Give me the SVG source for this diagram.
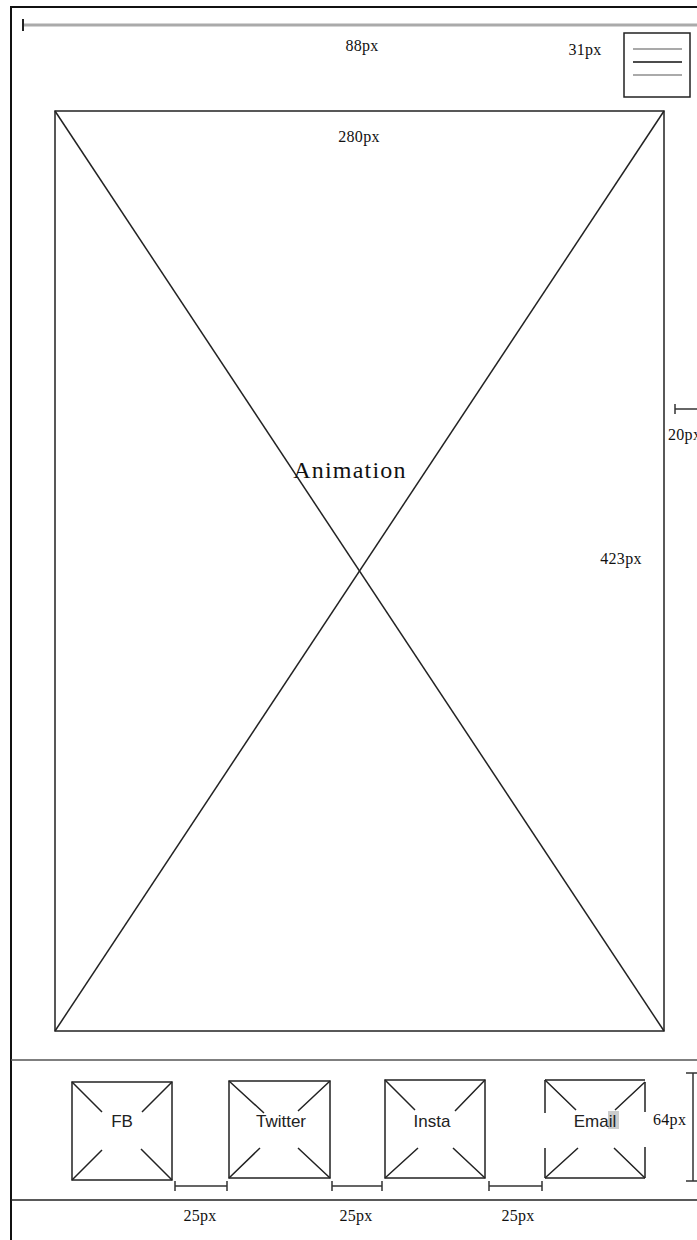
<svg xmlns="http://www.w3.org/2000/svg" width="697" height="1240" viewBox="0 0 697 1240">
<style>
.ln{stroke:#222;stroke-width:1.5;fill:none}
.dim{stroke:#333;stroke-width:1.5;fill:none}
.lbl{font-family:"Liberation Serif","Times New Roman",serif;font-size:16px;letter-spacing:0.3px;fill:#111}
.ico{font-family:"Liberation Sans",Arial,sans-serif;font-size:17px;fill:#222;text-anchor:middle}
</style>
<rect width="697" height="1240" fill="#fff"/>
<g id="frame">
<rect x="11" y="7" width="700" height="1250" fill="none" stroke="#111" stroke-width="2"/>
<line x1="11" y1="1060" x2="697" y2="1060" stroke="#555" stroke-width="1.5"/>
<line x1="11" y1="1200" x2="697" y2="1200" stroke="#222" stroke-width="1.5"/>
</g>
<g id="top-dimension">
<line x1="23" y1="25" x2="697" y2="25" stroke="#aaa" stroke-width="3"/>
<line x1="23" y1="19" x2="23" y2="31" stroke="#222" stroke-width="2"/>
<text class="lbl" x="362" y="51" text-anchor="middle">88px</text>
</g>
<g id="menu">
<text class="lbl" x="585" y="55" text-anchor="middle">31px</text>
<rect x="624" y="33" width="66" height="64" class="ln"/>
<line x1="633" y1="49" x2="682" y2="49" stroke="#555" stroke-width="1.2"/>
<line x1="633" y1="62" x2="682" y2="62" stroke="#111" stroke-width="1.5"/>
<line x1="633" y1="75" x2="682" y2="75" stroke="#aaa" stroke-width="2"/>
</g>
<g id="animation">
<rect x="55" y="111" width="609" height="920" class="ln"/>
<line x1="55" y1="111" x2="664" y2="1031" class="ln"/>
<line x1="664" y1="111" x2="55" y2="1031" class="ln"/>
<text x="350" y="478" text-anchor="middle" font-family="Liberation Serif,'Times New Roman',serif" font-size="24" letter-spacing="1.2" fill="#111">Animation</text>
<text class="lbl" x="359" y="142" text-anchor="middle">280px</text>
<text class="lbl" x="621" y="564" text-anchor="middle">423px</text>
</g>
<g id="margin-dimension">
<line x1="675" y1="409" x2="697" y2="409" class="dim"/>
<line x1="675" y1="404" x2="675" y2="414" class="dim"/>
<text class="lbl" x="668" y="440">20px</text>
</g>
<g id="fb">
<rect x="72" y="1082" width="100" height="98" class="ln"/>
<path class="ln" d="M72 1082L102 1112M172 1082L142 1112M72 1180L102 1150M172 1180L141 1149"/>
<text class="ico" x="122" y="1127">FB</text>
</g>
<g id="twitter">
<rect x="229" y="1081" width="101" height="97" class="ln"/>
<path class="ln" d="M229 1081L264 1113M330 1081L298 1111M229 1178L260 1148M330 1178L298 1148"/>
<text class="ico" x="281" y="1127">Twitter</text>
</g>
<g id="insta">
<rect x="385" y="1080" width="100" height="98" class="ln"/>
<path class="ln" d="M385 1080L415 1110M485 1080L455 1111M385 1178L418 1148M485 1178L453 1148"/>
<text class="ico" x="432" y="1127">Insta</text>
</g>
<g id="email">
<path class="ln" d="M545 1080H645M545 1178H645M545 1080V1113M545 1148V1178M645 1082V1112M645 1147V1178"/>
<path class="ln" d="M545 1080L576 1110M645 1082L615 1110M545 1178L578 1148M645 1178L614 1148"/>
<rect x="608" y="1111" width="11" height="18" fill="#ccc"/>
<text class="ico" x="595" y="1127">Email</text>
</g>
<g id="connectors">
<path class="dim" d="M175 1186H227M175 1181V1191M227 1181V1191"/>
<path class="dim" d="M332 1186H382M332 1181V1191M382 1181V1191"/>
<path class="dim" d="M489 1186H542M489 1181V1191M542 1181V1191"/>
<path class="dim" d="M693 1073V1181M686 1073H697M686 1181H697"/>
</g>
<g id="dimension-labels">
<text class="lbl" x="200" y="1221" text-anchor="middle">25px</text>
<text class="lbl" x="356" y="1221" text-anchor="middle">25px</text>
<text class="lbl" x="518" y="1221" text-anchor="middle">25px</text>
<text class="lbl" x="653" y="1125">64px</text>
</g>
</svg>
